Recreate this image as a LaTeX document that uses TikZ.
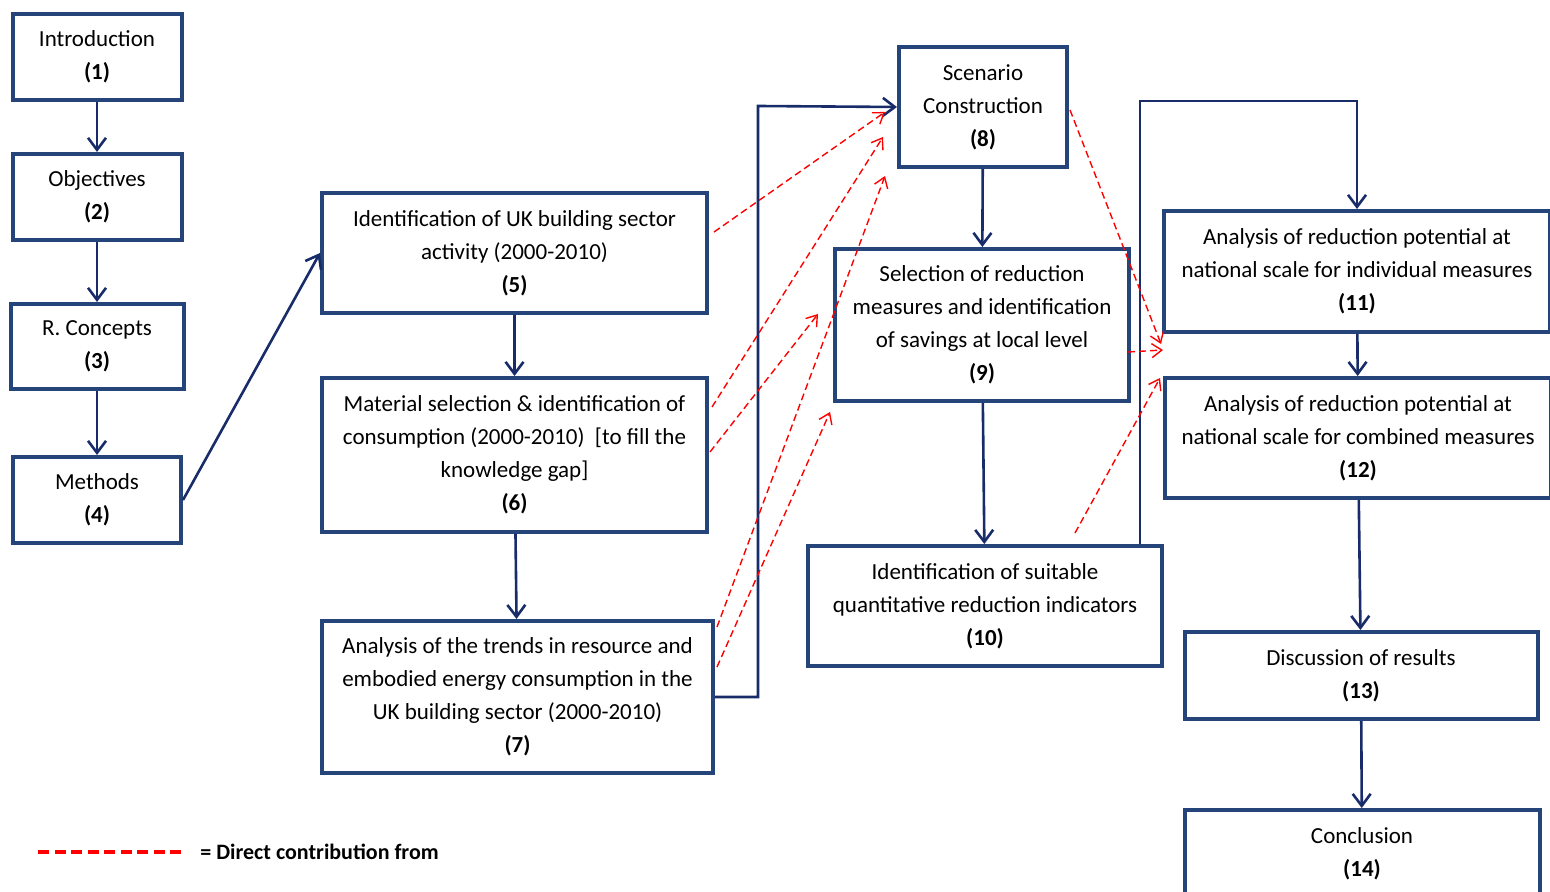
\documentclass[tikz,border=0pt]{standalone}
\usepackage{fontspec}
\setmainfont{Carlito}
\usetikzlibrary{arrows.meta}
\newcommand{\pixsize}{0.5pt}
\definecolor{boxblue}{RGB}{36,68,122}
\definecolor{linkblue}{RGB}{24,44,106}

\begin{document}
\begin{tikzpicture}[x=\pixsize,y=-\pixsize]
\useasboundingbox (0,0) rectangle (1550,892);
\clip (0,0) rectangle (1550,892);
\tikzstyle{stage}=[draw=boxblue,
                   line width=2pt,
                   fill=white,
                   align=center,
                   inner sep=0pt,
                   font=\fontsize{11.5}{16.5}\selectfont
                   ]
\tikzstyle{flow}=[linkblue, line width=1.3pt, -{Straight Barb[length=6pt,width=9pt]}]
\tikzstyle{contrib}=[red, line width=0.7pt, dash pattern=on 3.5pt off 2pt,
                     -{Straight Barb[length=5pt,width=7pt]}]
% left column
\node[stage, minimum width=169*\pixsize, minimum height=86*\pixsize] (intro) at (97,57) {Introduction\\\textbf{(1)}};
\node[stage, minimum width=169*\pixsize, minimum height=86*\pixsize] (objectives) at (97,197) {Objectives\\\textbf{(2)}};
\node[stage, minimum width=173*\pixsize, minimum height=85*\pixsize] (concepts) at (97,346.5) {R. Concepts\\\textbf{(3)}};
\node[stage, minimum width=168*\pixsize, minimum height=86*\pixsize] (methods) at (97,500) {Methods\\\textbf{(4)}};
% second column
\node[stage, minimum width=385*\pixsize, minimum height=120*\pixsize] (activity) at (514.5,253) {Identification of UK building sector\\activity (2000-2010)\\\textbf{(5)}};
\node[stage, minimum width=385*\pixsize, minimum height=154*\pixsize] (material) at (514.5,455) {Material selection \& identification of\\consumption (2000-2010) \ [to fill the\\knowledge gap]\\\textbf{(6)}};
\node[stage, minimum width=391*\pixsize, minimum height=152*\pixsize] (trends) at (517.5,697) {Analysis of the trends in resource and\\embodied energy consumption in the\\UK building sector (2000-2010)\\\textbf{(7)}};
% third column
\node[stage, minimum width=168*\pixsize, minimum height=120*\pixsize] (scenario) at (983,107) {Scenario\\Construction\\\textbf{(8)}};
\node[stage, minimum width=294*\pixsize, minimum height=152*\pixsize] (selection) at (982,325) {Selection of reduction\\measures and identification\\of savings at local level\\\textbf{(9)}};
\node[stage, minimum width=354*\pixsize, minimum height=120*\pixsize] (indicators) at (985,606) {Identification of suitable\\quantitative reduction indicators\\\textbf{(10)}};
% right column
\node[stage, minimum width=386*\pixsize, minimum height=121*\pixsize] (individual) at (1357,271.5) {Analysis of reduction potential at\\national scale for individual measures\\\textbf{(11)}};
\node[stage, minimum width=386*\pixsize, minimum height=120*\pixsize] (combined) at (1358,438) {Analysis of reduction potential at\\national scale for combined measures\\\textbf{(12)}};
\node[stage, minimum width=353*\pixsize, minimum height=87*\pixsize] (discussion) at (1361,675.5) {Discussion of results\\\textbf{(13)}};
\node[stage, minimum width=355*\pixsize, minimum height=88*\pixsize] (conclusion) at (1362,854) {Conclusion\\\textbf{(14)}};

\coordinate (jog78) at (758,106);
\coordinate (jog1011) at (1140,101);

\draw[flow] (intro) -- (objectives);
\draw[flow] (objectives) -- (concepts);
\draw[flow] (concepts) -- (methods);
\draw[flow] (methods.east) -- (activity.west);
\draw[flow] (activity) -- (material);
\draw[flow] (material) -- (trends);
\draw[flow] (trends.east) -| (jog78) -- (scenario.west);
\draw[flow] (scenario) -- (selection);
\draw[flow] (selection) -- (indicators);
\draw[flow] (indicators.north -| jog1011) -- (jog1011) -| (individual.north);
\draw[flow] (individual) -- (combined);
\draw[flow] (combined) -- (discussion);
\draw[flow] (discussion) -- (conclusion);

% direct contributions
\draw[contrib] ([xshift=2.5pt,yshift=10.5pt]activity.east) -- ([xshift=-6pt,yshift=-2.5pt]scenario.west);
\draw[contrib] ([xshift=1.5pt,yshift=24pt]material.east) -- ([xshift=-7pt,yshift=-15pt]scenario.west);
\draw[contrib] ([xshift=0.5pt,yshift=1.5pt]material.east) -- ([xshift=-7.5pt,yshift=5.5pt]selection.west);
\draw[contrib] ([xshift=1pt,yshift=35pt]trends.east) -- ([xshift=-6pt,yshift=-3.5pt]scenario.south west);
\draw[contrib] ([xshift=1pt,yshift=15pt]trends.east) -- ([xshift=-1.5pt,yshift=-4.5pt]selection.south west);
\draw[contrib] ([xshift=0.5pt,yshift=-1.5pt]scenario.east) -- ([xshift=-0.5pt,yshift=-5pt]individual.south west);
\draw[contrib] ([xshift=-1.5pt,yshift=-13.5pt]selection.east) -- ([yshift=13pt]combined.north west);
\draw[contrib] ([xshift=45pt,yshift=5.5pt]indicators.north) -- ([xshift=-1.5pt,yshift=-1pt]combined.north west);

% key
\node[font=\fontsize{11}{16}\selectfont\bfseries, inner sep=0pt, anchor=west] (key) at (200,852) {= Direct contribution from};
\draw[red, line width=2pt, dash pattern=on 5.5pt off 2.75pt] ([xshift=-81pt]key.west) -- ++(143,0);
\end{tikzpicture}
\end{document}
